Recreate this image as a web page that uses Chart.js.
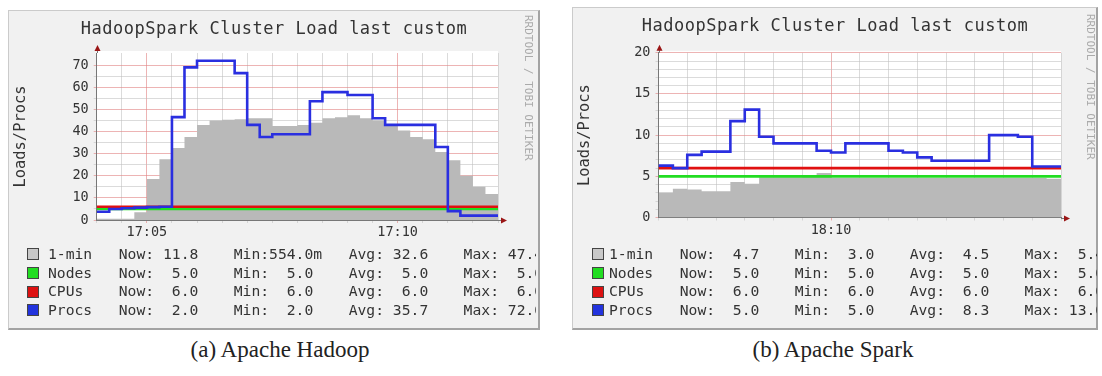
<!DOCTYPE html>
<html>
<head>
<meta charset="utf-8">
<script src="https://cdn.jsdelivr.net/npm/chart.js@4.4.1/dist/chart.umd.min.js"></script>
<style>
body { margin: 0; width: 1102px; height: 376px; position: relative; overflow: hidden; background: #fff;
       font-family: 'DejaVu Sans Mono', monospace; color: #333; }
.panel { position: absolute; box-sizing: border-box; background: #f1f1f1;
         border-top: 1px solid #cbcbcb; border-left: 1px solid #cbcbcb;
         border-right: 2px solid #a3a3a3; border-bottom: 2px solid #a3a3a3; }
canvas { position: absolute; }
.title { position: absolute; text-align: center; font-size: 17px; letter-spacing: 0.5px; line-height: 20px; color: #333; }
.rrd { position: absolute; writing-mode: vertical-rl; font-size: 11px; line-height: 12px; color: #aaa; }
.legend { position: absolute; overflow: hidden; height: 80px; }
.row { position: absolute; left: 0; height: 18.7px; line-height: 18.7px; white-space: pre; font-size: 14.7px; }
.sw { position: absolute; width: 10px; height: 10px; top: 3.3px; border: 1px solid #444; }
.caption { position: absolute; font-family: 'Liberation Serif', serif; font-size: 23px; color: #222;
           transform: translateX(-50%); white-space: nowrap; }
</style>
</head>
<body>

<div class="panel" style="left:8px; top:10px; width:532px; height:320px;"></div>
<div class="panel" style="left:572px; top:7px; width:526px; height:323px;"></div>

<canvas id="hadoop" width="532" height="236" style="left:8px; top:10px;"></canvas>
<canvas id="spark" width="526" height="236" style="left:572px; top:7px;"></canvas>

<div class="title" style="left:8px; width:532px; top:18px;">HadoopSpark Cluster Load last custom</div>
<div class="title" style="left:572px; width:526px; top:15px;">HadoopSpark Cluster Load last custom</div>

<div class="rrd" style="left:522px; top:15px;">RRDTOOL / TOBI OETIKER</div>
<div class="rrd" style="left:1084px; top:14px;">RRDTOOL / TOBI OETIKER</div>

<div class="legend" id="hadoopLegend" style="left:9px; top:245px; width:527px;"></div>
<div class="legend" id="sparkLegend" style="left:573px; top:245px; width:524px;"></div>

<div class="caption" style="left:280px; top:337px;">(a) Apache Hadoop</div>
<div class="caption" style="left:833px; top:337px;">(b) Apache Spark</div>

<script>
// one value every 15 s
const stepSec = 15;

// (a) Hadoop, from 17:04:00
const hadoopStart = '17:04:00';
const hadoopLoad = [0.6, 0.6, 0.6, 3.5, 18.5, 27.5, 32.5, 37.5, 43, 45, 45.3, 45.5, 46, 46, 42.5, 42.5,
                    43, 44, 46, 46.5, 47.4, 46, 45, 42.5, 40.5, 37.5, 36.5, 30.7, 27, 20, 15, 11.8];
const hadoopNodes = [5, 5, 5, 5, 5, 5, 5, 5, 5, 5, 5, 5, 5, 5, 5, 5, 5, 5, 5, 5, 5, 5, 5, 5, 5, 5, 5, 5, 5, 5, 5, 5];
const hadoopCpus = [6, 6, 6, 6, 6, 6, 6, 6, 6, 6, 6, 6, 6, 6, 6, 6, 6, 6, 6, 6, 6, 6, 6, 6, 6, 6, 6, 6, 6, 6, 6, 6];
const hadoopProcs = [3.7, 5, 5.3, 5.6, 5.8, 6, 46.5, 69, 72, 72, 72, 66.4, 43, 37.5, 38.8, 38.8,
                     38.8, 53.7, 57.8, 57.8, 56.5, 56.5, 46, 43, 43, 43, 43, 33, 4, 2, 2, 2];
const hadoopStats = [
    ['Now: 11.8', 'Min:554.0m', 'Avg: 32.6', 'Max: 47.4'],
    ['Now:  5.0', 'Min:  5.0', 'Avg:  5.0', 'Max:  5.0'],
    ['Now:  6.0', 'Min:  6.0', 'Avg:  6.0', 'Max:  6.0'],
    ['Now:  2.0', 'Min:  2.0', 'Avg: 35.7', 'Max: 72.0']
];

// (b) Spark, from 18:07:00
const sparkStart = '18:07:00';
const sparkLoad = [3.0, 3.5, 3.4, 3.2, 3.2, 4.3, 4.1, 4.9, 4.9, 4.9, 5.0, 5.4, 4.8, 4.8,
                   4.8, 4.8, 4.8, 4.8, 4.8, 4.8, 4.8, 4.8, 4.8, 4.8, 4.8, 4.8, 4.8, 4.7];
const sparkNodes = [5, 5, 5, 5, 5, 5, 5, 5, 5, 5, 5, 5, 5, 5, 5, 5, 5, 5, 5, 5, 5, 5, 5, 5, 5, 5, 5, 5];
const sparkCpus = [6, 6, 6, 6, 6, 6, 6, 6, 6, 6, 6, 6, 6, 6, 6, 6, 6, 6, 6, 6, 6, 6, 6, 6, 6, 6, 6, 6];
const sparkProcs = [6.3, 6.0, 7.6, 8.0, 8.0, 11.7, 13.1, 9.8, 9.0, 9.0, 9.0, 8.1, 7.9, 9.0,
                    9.0, 9.0, 8.1, 7.9, 7.3, 6.9, 6.9, 6.9, 6.9, 10.0, 10.0, 9.8, 6.2, 6.2];
const sparkStats = [
    ['Now:  4.7', 'Min:  3.0', 'Avg:  4.5', 'Max:  5.4'],
    ['Now:  5.0', 'Min:  5.0', 'Avg:  5.0', 'Max:  5.0'],
    ['Now:  6.0', 'Min:  6.0', 'Avg:  6.0', 'Max:  6.0'],
    ['Now:  5.0', 'Min:  5.0', 'Avg:  8.3', 'Max: 13.0']
];

const seriesNames = ['1-min', 'Nodes', 'CPUs', 'Procs'];
const seriesColors = ['#b9b9b9', '#22dd22', '#e01010', '#2a2fe0'];
const swatchColors = ['#c8c8c8', '#22dd22', '#dd1111', '#2233dd'];

const minorGrid = 'rgba(190,190,190,0.55)';
const majorGrid = 'rgba(225,130,130,0.6)';

Chart.defaults.font.family = "'DejaVu Sans Mono', monospace";
Chart.defaults.color = '#333';

function toSec(s) {
    const p = s.split(':').map(Number);
    return p[0] * 3600 + p[1] * 60 + p[2];
}

function clock(sec) {
    const h = Math.floor(sec / 3600), m = Math.floor((sec % 3600) / 60);
    return String(h).padStart(2, '0') + ':' + String(m).padStart(2, '0');
}

// value i holds from i*15s to (i+1)*15s
function steps(values) {
    const pts = values.map((v, i) => ({ x: i * stepSec, y: v }));
    pts.push({ x: values.length * stepSec, y: values[values.length - 1] });
    return pts;
}

// white canvas area + red axis arrows, like rrdtool
const rrdDecor = {
    id: 'rrdDecor',
    beforeDraw(chart) {
        const { ctx, chartArea: a } = chart;
        ctx.save();
        ctx.fillStyle = '#fff';
        ctx.fillRect(a.left, a.top - 2, a.right - a.left, a.bottom - a.top + 2);
        ctx.restore();
    },
    afterDraw(chart) {
        const { ctx, chartArea: a } = chart;
        const x0 = Math.round(a.left) + 0.5, y0 = Math.round(a.bottom) + 0.5;
        ctx.save();
        ctx.strokeStyle = '#777';
        ctx.lineWidth = 1;
        ctx.beginPath();
        ctx.moveTo(x0, a.top);
        ctx.lineTo(x0, a.top - 4);
        ctx.moveTo(a.right, y0);
        ctx.lineTo(a.right + 4, y0);
        ctx.stroke();
        ctx.fillStyle = '#9a1515';
        ctx.beginPath();
        ctx.moveTo(x0, a.top - 8);
        ctx.lineTo(x0 - 3, a.top - 2);
        ctx.lineTo(x0 + 3, a.top - 2);
        ctx.fill();
        ctx.beginPath();
        ctx.moveTo(a.right + 9, y0);
        ctx.lineTo(a.right + 3, y0 - 3);
        ctx.lineTo(a.right + 3, y0 + 3);
        ctx.fill();
        ctx.restore();
    }
};

function makeGraph(id, start, load, nodes, cpus, procs, yMax, yStep, yLabelEvery, box) {
    const t0 = toSec(start);
    const line = (label, data, color, order) => ({
        label: label, data: steps(data), stepped: true, borderColor: color, borderWidth: 2.6,
        pointRadius: 0, fill: false, order: order, borderJoinStyle: 'miter'
    });
    new Chart(document.getElementById(id), {
        type: 'line',
        data: {
            datasets: [
                { label: '1-min', data: steps(load), stepped: true, borderWidth: 0, pointRadius: 0,
                  backgroundColor: seriesColors[0], fill: 'origin', order: 4 },
                line('Nodes', nodes, seriesColors[1], 3),
                line('CPUs', cpus, seriesColors[2], 2),
                line('Procs', procs, seriesColors[3], 1)
            ]
        },
        options: {
            responsive: false,
            animation: false,
            layout: { padding: { left: 0, right: box.padRight, top: box.padTop, bottom: 0 } },
            plugins: { legend: { display: false }, tooltip: { enabled: false } },
            scales: {
                x: {
                    type: 'linear', min: 0, max: load.length * stepSec, z: 1,
                    afterFit: s => { s.height = box.xHeight; },
                    border: { color: '#777' },
                    grid: {
                        color: c => (c.tick && (t0 + c.tick.value) % 300 === 0) ? majorGrid : minorGrid,
                        tickLength: 3
                    },
                    ticks: {
                        stepSize: 30, autoSkip: false, maxRotation: 0, padding: 1.5,
                        font: { size: 13.5 }, color: '#333',
                        callback: v => (t0 + v) % 300 === 0 ? clock(t0 + v) : ''
                    }
                },
                y: {
                    min: 0, max: yMax, z: 1,
                    afterFit: s => { s.width = box.yWidth; },
                    afterBuildTicks: s => { s.ticks = s.ticks.filter(t => t.value % yStep === 0); },
                    border: { color: '#777' },
                    grid: {
                        color: c => (c.tick && c.tick.value % yLabelEvery === 0) ? majorGrid : minorGrid,
                        tickLength: 3
                    },
                    ticks: {
                        stepSize: yStep, autoSkip: false, padding: 5, font: { size: 13.5 }, color: '#333',
                        callback: v => v % yLabelEvery === 0 ? v : ''
                    },
                    title: {
                        display: true, text: 'Loads/Procs', color: '#333',
                        font: { size: 15.4 }, padding: { top: 4, bottom: 0 }
                    }
                }
            }
        },
        plugins: [rrdDecor]
    });
}

function makeLegend(id, stats, swLeft, textLeft) {
    const el = document.getElementById(id);
    seriesNames.forEach((name, i) => {
        const row = document.createElement('div');
        row.className = 'row';
        row.style.top = (i * 18.7) + 'px';
        row.style.width = '700px';
        const sw = document.createElement('span');
        sw.className = 'sw';
        sw.style.left = swLeft + 'px';
        sw.style.background = swatchColors[i];
        const txt = document.createElement('span');
        txt.style.position = 'absolute';
        txt.style.left = textLeft + 'px';
        txt.textContent = name.padEnd(8) + stats[i].map(s => s.padEnd(13)).join('');
        row.appendChild(sw);
        row.appendChild(txt);
        el.appendChild(row);
    });
}

makeGraph('hadoop', hadoopStart, hadoopLoad, hadoopNodes, hadoopCpus, hadoopProcs, 75.5, 5, 10,
          { yWidth: 88.7, padRight: 42, padTop: 43, xHeight: 26 });
makeGraph('spark', sparkStart, sparkLoad, sparkNodes, sparkCpus, sparkProcs, 20, 1, 5,
          { yWidth: 86.5, padRight: 37, padTop: 45.8, xHeight: 25.5 });

makeLegend('hadoopLegend', hadoopStats, 18, 39);
makeLegend('sparkLegend', sparkStats, 19, 36);
</script>
</body>
</html>
